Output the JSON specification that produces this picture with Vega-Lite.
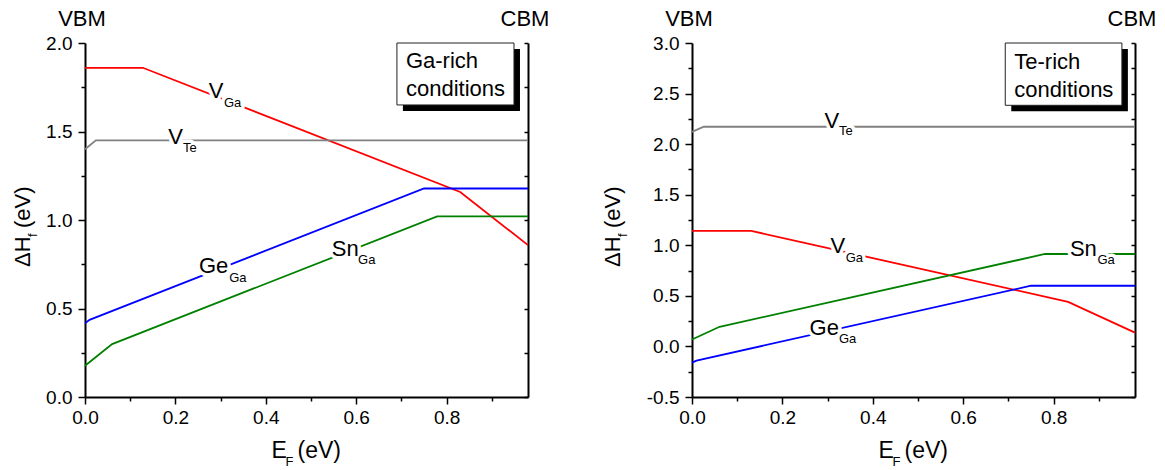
{
  "$schema": "https://vega.github.io/schema/vega-lite/v6.json",
  "padding": {"left": 12, "top": 8, "right": 5, "bottom": 5},
  "bounds": "flush",
  "spacing": 164,
  "config": {
    "view": {"stroke": null},
    "font": "Liberation Sans",
    "axis": {"domainColor": "black", "domainWidth": 2, "tickColor": "black", "tickWidth": 1.5, "labelFont": "Liberation Sans", "labelFontSize": 19, "labelColor": "black", "grid": false, "labelFlush": false, "labelOverlap": false}
  },
  "datasets": {
    "ga_lines": [
      {"s": "VGa", "x": 0, "y": 1.86}, {"s": "VGa", "x": 0.128, "y": 1.86}, {"s": "VGa", "x": 0.83, "y": 1.158}, {"s": "VGa", "x": 0.98, "y": 0.858},
      {"s": "VTe", "x": 0, "y": 1.40}, {"s": "VTe", "x": 0.024, "y": 1.45}, {"s": "VTe", "x": 0.98, "y": 1.45},
      {"s": "GeGa", "x": 0, "y": 0.416}, {"s": "GeGa", "x": 0.01, "y": 0.436}, {"s": "GeGa", "x": 0.75, "y": 1.178}, {"s": "GeGa", "x": 0.98, "y": 1.178},
      {"s": "SnGa", "x": 0, "y": 0.177}, {"s": "SnGa", "x": 0.06, "y": 0.299}, {"s": "SnGa", "x": 0.779, "y": 1.02}, {"s": "SnGa", "x": 0.98, "y": 1.02}
    ],
    "ga_labels": [
      {"t": "V", "x": 0.274, "y": 1.689, "sub": "Ga", "xs": 0.3075, "ys": 1.638},
      {"t": "V", "x": 0.184, "y": 1.429, "sub": "Te", "xs": 0.217, "ys": 1.384},
      {"t": "Ge", "x": 0.252, "y": 0.702, "sub": "Ga", "xs": 0.319, "ys": 0.648},
      {"t": "Sn", "x": 0.546, "y": 0.797, "sub": "Ga", "xs": 0.604, "ys": 0.751}
    ],
    "ga_box": [{"x1": 0.690, "x2": 0.949, "y1": 2.0, "y2": 1.65, "tx": 0.710, "ty": 1.857, "t": "Ga-rich\nconditions"}],
    "ga_edges": [{"t": "VBM", "x": 0, "y": 2.0}, {"t": "CBM", "x": 0.98, "y": 2.0}],
    "ga_anchor": [{"x": 0, "y": 1.0, "xm": 0.49, "yb": 0}],
    "te_lines": [
      {"s": "VGa", "x": 0, "y": 1.142}, {"s": "VGa", "x": 0.131, "y": 1.142}, {"s": "VGa", "x": 0.832, "y": 0.441}, {"s": "VGa", "x": 0.98, "y": 0.137},
      {"s": "VTe", "x": 0, "y": 2.122}, {"s": "VTe", "x": 0.026, "y": 2.172}, {"s": "VTe", "x": 0.98, "y": 2.172},
      {"s": "GeGa", "x": 0, "y": -0.16}, {"s": "GeGa", "x": 0.01, "y": -0.14}, {"s": "GeGa", "x": 0.75, "y": 0.60}, {"s": "GeGa", "x": 0.98, "y": 0.60},
      {"s": "SnGa", "x": 0, "y": 0.068}, {"s": "SnGa", "x": 0.061, "y": 0.194}, {"s": "SnGa", "x": 0.781, "y": 0.914}, {"s": "SnGa", "x": 0.98, "y": 0.914}
    ],
    "te_labels": [
      {"t": "V", "x": 0.293, "y": 2.163, "sub": "Te", "xs": 0.325, "ys": 2.091},
      {"t": "V", "x": 0.3065, "y": 0.922, "sub": "Ga", "xs": 0.34, "ys": 0.839},
      {"t": "Ge", "x": 0.260, "y": 0.115, "sub": "Ga", "xs": 0.325, "ys": 0.033},
      {"t": "Sn", "x": 0.836, "y": 0.895, "sub": "Ga", "xs": 0.897, "ys": 0.816}
    ],
    "te_box": [{"x1": 0.693, "x2": 0.951, "y1": 3.0, "y2": 2.384, "tx": 0.713, "ty": 2.743, "t": "Te-rich\nconditions"}],
    "te_edges": [{"t": "VBM", "x": 0, "y": 3.0}, {"t": "CBM", "x": 0.98, "y": 3.0}],
    "te_anchor": [{"x": 0, "y": 1.25, "xm": 0.49, "yb": -0.5}]
  },
  "hconcat": [
    {
      "width": 443, "height": 354,
      "resolve": {"axis": {"x": "independent", "y": "independent"}},
      "layer": [
        {"data": {"name": "ga_lines"}, "mark": {"type": "line", "strokeWidth": 1.8},
         "encoding": {"x": {"field": "x", "type": "quantitative", "scale": {"domain": [0, 0.98], "nice": false, "zero": false},
                            "axis": {"orient": "bottom", "values": [0, 0.1, 0.2, 0.3, 0.4, 0.5, 0.6, 0.7, 0.8, 0.9], "labelExpr": "(datum.value*10 + 0.5) % 2 < 1 ? format(datum.value, '.1f') : ''", "tickSize": {"condition": {"test": "(datum.value*10 + 0.5) % 2 < 1", "value": 7}, "value": 4}, "labelPadding": 4, "title": null}},
                      "y": {"field": "y", "type": "quantitative", "scale": {"domain": [0, 2], "nice": false, "zero": false},
                            "axis": {"orient": "left", "values": [0, 0.25, 0.5, 0.75, 1, 1.25, 1.5, 1.75, 2], "labelExpr": "datum.value % 0.5 == 0 ? format(datum.value, '.1f') : ''", "tickSize": {"condition": {"test": "datum.value % 0.5 == 0", "value": 7}, "value": 4}, "labelPadding": 6, "title": null}},
                      "color": {"field": "s", "type": "nominal", "scale": {"domain": ["VGa", "VTe", "GeGa", "SnGa"], "range": ["#ff0000", "#808080", "#0000ff", "#008000"]}, "legend": null}}},
        {"data": {"name": "ga_box"}, "mark": {"type": "rect", "color": "black", "xOffset": 6, "x2Offset": 6, "yOffset": 6, "y2Offset": 6},
         "encoding": {"x": {"field": "x1", "type": "quantitative", "scale": {"domain": [0, 0.98], "nice": false, "zero": false}, "axis": null}, "x2": {"field": "x2"},
                      "y": {"field": "y1", "type": "quantitative", "scale": {"domain": [0, 2], "nice": false, "zero": false}, "axis": {"orient": "right", "values": [0, 0.25, 0.5, 0.75, 1, 1.25, 1.5, 1.75, 2], "labels": false, "tickSize": -4, "title": null}}, "y2": {"field": "y2"}}},
        {"data": {"name": "ga_box"}, "mark": {"type": "rect", "fill": "white", "stroke": "#222222", "strokeWidth": 1},
         "encoding": {"x": {"field": "x1", "type": "quantitative", "scale": {"domain": [0, 0.98], "nice": false, "zero": false}, "axis": null}, "x2": {"field": "x2"},
                      "y": {"field": "y1", "type": "quantitative", "scale": {"domain": [0, 2], "nice": false, "zero": false}, "axis": null}, "y2": {"field": "y2"}}},
        {"data": {"name": "ga_box"}, "mark": {"type": "text", "align": "left", "baseline": "alphabetic", "fontSize": 22, "lineBreak": "\n", "lineHeight": 28, "color": "black"},
         "encoding": {"x": {"field": "tx", "type": "quantitative", "scale": {"domain": [0, 0.98], "nice": false, "zero": false}, "axis": null},
                      "y": {"field": "ty", "type": "quantitative", "scale": {"domain": [0, 2], "nice": false, "zero": false}, "axis": null}, "text": {"field": "t"}}},
        {"data": {"name": "ga_labels"}, "mark": {"type": "text", "align": "left", "baseline": "alphabetic", "fontSize": 22, "fill": "white", "stroke": "white", "strokeWidth": 7, "strokeJoin": "round"},
         "encoding": {"x": {"field": "x", "type": "quantitative", "scale": {"domain": [0, 0.98], "nice": false, "zero": false}, "axis": null},
                      "y": {"field": "y", "type": "quantitative", "scale": {"domain": [0, 2], "nice": false, "zero": false}, "axis": null}, "text": {"field": "t"}}},
        {"data": {"name": "ga_labels"}, "mark": {"type": "text", "align": "left", "baseline": "alphabetic", "fontSize": 13, "fill": "white", "stroke": "white", "strokeWidth": 7, "strokeJoin": "round"},
         "encoding": {"x": {"field": "xs", "type": "quantitative", "scale": {"domain": [0, 0.98], "nice": false, "zero": false}, "axis": null},
                      "y": {"field": "ys", "type": "quantitative", "scale": {"domain": [0, 2], "nice": false, "zero": false}, "axis": null}, "text": {"field": "sub"}}},
        {"data": {"name": "ga_labels"}, "mark": {"type": "text", "align": "left", "baseline": "alphabetic", "fontSize": 22, "color": "black"},
         "encoding": {"x": {"field": "x", "type": "quantitative", "scale": {"domain": [0, 0.98], "nice": false, "zero": false}, "axis": null},
                      "y": {"field": "y", "type": "quantitative", "scale": {"domain": [0, 2], "nice": false, "zero": false}, "axis": null}, "text": {"field": "t"}}},
        {"data": {"name": "ga_labels"}, "mark": {"type": "text", "align": "left", "baseline": "alphabetic", "fontSize": 13, "color": "black"},
         "encoding": {"x": {"field": "xs", "type": "quantitative", "scale": {"domain": [0, 0.98], "nice": false, "zero": false}, "axis": null},
                      "y": {"field": "ys", "type": "quantitative", "scale": {"domain": [0, 2], "nice": false, "zero": false}, "axis": null}, "text": {"field": "sub"}}},
        {"data": {"name": "ga_edges"}, "mark": {"type": "text", "align": "center", "baseline": "alphabetic", "fontSize": 22, "color": "black", "dx": -3, "dy": -17},
         "encoding": {"x": {"field": "x", "type": "quantitative", "scale": {"domain": [0, 0.98], "nice": false, "zero": false}, "axis": null},
                      "y": {"field": "y", "type": "quantitative", "scale": {"domain": [0, 2], "nice": false, "zero": false}, "axis": null}, "text": {"field": "t"}}},
        {"data": {"name": "ga_anchor"}, "mark": {"type": "text", "align": "left", "baseline": "alphabetic", "fontSize": 22, "color": "black", "angle": 270, "dx": -47, "dy": -55, "text": "ΔH"},
         "encoding": {"x": {"field": "x", "type": "quantitative", "scale": {"domain": [0, 0.98], "nice": false, "zero": false}, "axis": null},
                      "y": {"field": "y", "type": "quantitative", "scale": {"domain": [0, 2], "nice": false, "zero": false}, "axis": null}}},
        {"data": {"name": "ga_anchor"}, "mark": {"type": "text", "align": "left", "baseline": "alphabetic", "fontSize": 13, "color": "black", "angle": 270, "dx": -17, "dy": -48, "text": "f"},
         "encoding": {"x": {"field": "x", "type": "quantitative", "scale": {"domain": [0, 0.98], "nice": false, "zero": false}, "axis": null},
                      "y": {"field": "y", "type": "quantitative", "scale": {"domain": [0, 2], "nice": false, "zero": false}, "axis": null}}},
        {"data": {"name": "ga_anchor"}, "mark": {"type": "text", "align": "left", "baseline": "alphabetic", "fontSize": 22, "color": "black", "angle": 270, "dx": -8, "dy": -55, "text": "(eV)"},
         "encoding": {"x": {"field": "x", "type": "quantitative", "scale": {"domain": [0, 0.98], "nice": false, "zero": false}, "axis": null},
                      "y": {"field": "y", "type": "quantitative", "scale": {"domain": [0, 2], "nice": false, "zero": false}, "axis": null}}},
        {"data": {"name": "ga_anchor"}, "mark": {"type": "text", "align": "left", "baseline": "alphabetic", "fontSize": 23, "color": "black", "dx": -35, "dy": 61, "text": "E"},
         "encoding": {"x": {"field": "xm", "type": "quantitative", "scale": {"domain": [0, 0.98], "nice": false, "zero": false}, "axis": null},
                      "y": {"field": "yb", "type": "quantitative", "scale": {"domain": [0, 2], "nice": false, "zero": false}, "axis": null}}},
        {"data": {"name": "ga_anchor"}, "mark": {"type": "text", "align": "left", "baseline": "alphabetic", "fontSize": 13, "color": "black", "dx": -21, "dy": 69, "text": "F"},
         "encoding": {"x": {"field": "xm", "type": "quantitative", "scale": {"domain": [0, 0.98], "nice": false, "zero": false}, "axis": null},
                      "y": {"field": "yb", "type": "quantitative", "scale": {"domain": [0, 2], "nice": false, "zero": false}, "axis": null}}},
        {"data": {"name": "ga_anchor"}, "mark": {"type": "text", "align": "left", "baseline": "alphabetic", "fontSize": 23, "color": "black", "dx": -9, "dy": 61, "text": "(eV)"},
         "encoding": {"x": {"field": "xm", "type": "quantitative", "scale": {"domain": [0, 0.98], "nice": false, "zero": false}, "axis": null},
                      "y": {"field": "yb", "type": "quantitative", "scale": {"domain": [0, 2], "nice": false, "zero": false}, "axis": null}}}
      ]
    },
    {
      "width": 443, "height": 354,
      "resolve": {"axis": {"x": "independent", "y": "independent"}},
      "layer": [
        {"data": {"name": "te_lines"}, "mark": {"type": "line", "strokeWidth": 1.8},
         "encoding": {"x": {"field": "x", "type": "quantitative", "scale": {"domain": [0, 0.98], "nice": false, "zero": false},
                            "axis": {"orient": "bottom", "values": [0, 0.1, 0.2, 0.3, 0.4, 0.5, 0.6, 0.7, 0.8, 0.9], "labelExpr": "(datum.value*10 + 0.5) % 2 < 1 ? format(datum.value, '.1f') : ''", "tickSize": {"condition": {"test": "(datum.value*10 + 0.5) % 2 < 1", "value": 7}, "value": 4}, "labelPadding": 4, "title": null}},
                      "y": {"field": "y", "type": "quantitative", "scale": {"domain": [-0.5, 3], "nice": false, "zero": false},
                            "axis": {"orient": "left", "values": [-0.5, -0.25, 0, 0.25, 0.5, 0.75, 1, 1.25, 1.5, 1.75, 2, 2.25, 2.5, 2.75, 3], "labelExpr": "datum.value % 0.5 == 0 ? replace(format(datum.value, '.1f'), '−', '-') : ''", "tickSize": {"condition": {"test": "datum.value % 0.5 == 0", "value": 7}, "value": 4}, "labelPadding": 6, "title": null}},
                      "color": {"field": "s", "type": "nominal", "scale": {"domain": ["VGa", "VTe", "GeGa", "SnGa"], "range": ["#ff0000", "#808080", "#0000ff", "#008000"]}, "legend": null}}},
        {"data": {"name": "te_box"}, "mark": {"type": "rect", "color": "black", "xOffset": 6, "x2Offset": 6, "yOffset": 6, "y2Offset": 6},
         "encoding": {"x": {"field": "x1", "type": "quantitative", "scale": {"domain": [0, 0.98], "nice": false, "zero": false}, "axis": null}, "x2": {"field": "x2"},
                      "y": {"field": "y1", "type": "quantitative", "scale": {"domain": [-0.5, 3], "nice": false, "zero": false}, "axis": {"orient": "right", "values": [-0.5, -0.25, 0, 0.25, 0.5, 0.75, 1, 1.25, 1.5, 1.75, 2, 2.25, 2.5, 2.75, 3], "labels": false, "tickSize": -4, "title": null}}, "y2": {"field": "y2"}}},
        {"data": {"name": "te_box"}, "mark": {"type": "rect", "fill": "white", "stroke": "#222222", "strokeWidth": 1},
         "encoding": {"x": {"field": "x1", "type": "quantitative", "scale": {"domain": [0, 0.98], "nice": false, "zero": false}, "axis": null}, "x2": {"field": "x2"},
                      "y": {"field": "y1", "type": "quantitative", "scale": {"domain": [-0.5, 3], "nice": false, "zero": false}, "axis": null}, "y2": {"field": "y2"}}},
        {"data": {"name": "te_box"}, "mark": {"type": "text", "align": "left", "baseline": "alphabetic", "fontSize": 22, "lineBreak": "\n", "lineHeight": 28, "color": "black"},
         "encoding": {"x": {"field": "tx", "type": "quantitative", "scale": {"domain": [0, 0.98], "nice": false, "zero": false}, "axis": null},
                      "y": {"field": "ty", "type": "quantitative", "scale": {"domain": [-0.5, 3], "nice": false, "zero": false}, "axis": null}, "text": {"field": "t"}}},
        {"data": {"name": "te_labels"}, "mark": {"type": "text", "align": "left", "baseline": "alphabetic", "fontSize": 22, "fill": "white", "stroke": "white", "strokeWidth": 7, "strokeJoin": "round"},
         "encoding": {"x": {"field": "x", "type": "quantitative", "scale": {"domain": [0, 0.98], "nice": false, "zero": false}, "axis": null},
                      "y": {"field": "y", "type": "quantitative", "scale": {"domain": [-0.5, 3], "nice": false, "zero": false}, "axis": null}, "text": {"field": "t"}}},
        {"data": {"name": "te_labels"}, "mark": {"type": "text", "align": "left", "baseline": "alphabetic", "fontSize": 13, "fill": "white", "stroke": "white", "strokeWidth": 7, "strokeJoin": "round"},
         "encoding": {"x": {"field": "xs", "type": "quantitative", "scale": {"domain": [0, 0.98], "nice": false, "zero": false}, "axis": null},
                      "y": {"field": "ys", "type": "quantitative", "scale": {"domain": [-0.5, 3], "nice": false, "zero": false}, "axis": null}, "text": {"field": "sub"}}},
        {"data": {"name": "te_labels"}, "mark": {"type": "text", "align": "left", "baseline": "alphabetic", "fontSize": 22, "color": "black"},
         "encoding": {"x": {"field": "x", "type": "quantitative", "scale": {"domain": [0, 0.98], "nice": false, "zero": false}, "axis": null},
                      "y": {"field": "y", "type": "quantitative", "scale": {"domain": [-0.5, 3], "nice": false, "zero": false}, "axis": null}, "text": {"field": "t"}}},
        {"data": {"name": "te_labels"}, "mark": {"type": "text", "align": "left", "baseline": "alphabetic", "fontSize": 13, "color": "black"},
         "encoding": {"x": {"field": "xs", "type": "quantitative", "scale": {"domain": [0, 0.98], "nice": false, "zero": false}, "axis": null},
                      "y": {"field": "ys", "type": "quantitative", "scale": {"domain": [-0.5, 3], "nice": false, "zero": false}, "axis": null}, "text": {"field": "sub"}}},
        {"data": {"name": "te_edges"}, "mark": {"type": "text", "align": "center", "baseline": "alphabetic", "fontSize": 22, "color": "black", "dx": -3, "dy": -17},
         "encoding": {"x": {"field": "x", "type": "quantitative", "scale": {"domain": [0, 0.98], "nice": false, "zero": false}, "axis": null},
                      "y": {"field": "y", "type": "quantitative", "scale": {"domain": [-0.5, 3], "nice": false, "zero": false}, "axis": null}, "text": {"field": "t"}}},
        {"data": {"name": "te_anchor"}, "mark": {"type": "text", "align": "left", "baseline": "alphabetic", "fontSize": 22, "color": "black", "angle": 270, "dx": -47, "dy": -72, "text": "ΔH"},
         "encoding": {"x": {"field": "x", "type": "quantitative", "scale": {"domain": [0, 0.98], "nice": false, "zero": false}, "axis": null},
                      "y": {"field": "y", "type": "quantitative", "scale": {"domain": [-0.5, 3], "nice": false, "zero": false}, "axis": null}}},
        {"data": {"name": "te_anchor"}, "mark": {"type": "text", "align": "left", "baseline": "alphabetic", "fontSize": 13, "color": "black", "angle": 270, "dx": -17, "dy": -65, "text": "f"},
         "encoding": {"x": {"field": "x", "type": "quantitative", "scale": {"domain": [0, 0.98], "nice": false, "zero": false}, "axis": null},
                      "y": {"field": "y", "type": "quantitative", "scale": {"domain": [-0.5, 3], "nice": false, "zero": false}, "axis": null}}},
        {"data": {"name": "te_anchor"}, "mark": {"type": "text", "align": "left", "baseline": "alphabetic", "fontSize": 22, "color": "black", "angle": 270, "dx": -8, "dy": -72, "text": "(eV)"},
         "encoding": {"x": {"field": "x", "type": "quantitative", "scale": {"domain": [0, 0.98], "nice": false, "zero": false}, "axis": null},
                      "y": {"field": "y", "type": "quantitative", "scale": {"domain": [-0.5, 3], "nice": false, "zero": false}, "axis": null}}},
        {"data": {"name": "te_anchor"}, "mark": {"type": "text", "align": "left", "baseline": "alphabetic", "fontSize": 23, "color": "black", "dx": -35, "dy": 61, "text": "E"},
         "encoding": {"x": {"field": "xm", "type": "quantitative", "scale": {"domain": [0, 0.98], "nice": false, "zero": false}, "axis": null},
                      "y": {"field": "yb", "type": "quantitative", "scale": {"domain": [-0.5, 3], "nice": false, "zero": false}, "axis": null}}},
        {"data": {"name": "te_anchor"}, "mark": {"type": "text", "align": "left", "baseline": "alphabetic", "fontSize": 13, "color": "black", "dx": -21, "dy": 69, "text": "F"},
         "encoding": {"x": {"field": "xm", "type": "quantitative", "scale": {"domain": [0, 0.98], "nice": false, "zero": false}, "axis": null},
                      "y": {"field": "yb", "type": "quantitative", "scale": {"domain": [-0.5, 3], "nice": false, "zero": false}, "axis": null}}},
        {"data": {"name": "te_anchor"}, "mark": {"type": "text", "align": "left", "baseline": "alphabetic", "fontSize": 23, "color": "black", "dx": -9, "dy": 61, "text": "(eV)"},
         "encoding": {"x": {"field": "xm", "type": "quantitative", "scale": {"domain": [0, 0.98], "nice": false, "zero": false}, "axis": null},
                      "y": {"field": "yb", "type": "quantitative", "scale": {"domain": [-0.5, 3], "nice": false, "zero": false}, "axis": null}}}
      ]
    }
  ]
}
